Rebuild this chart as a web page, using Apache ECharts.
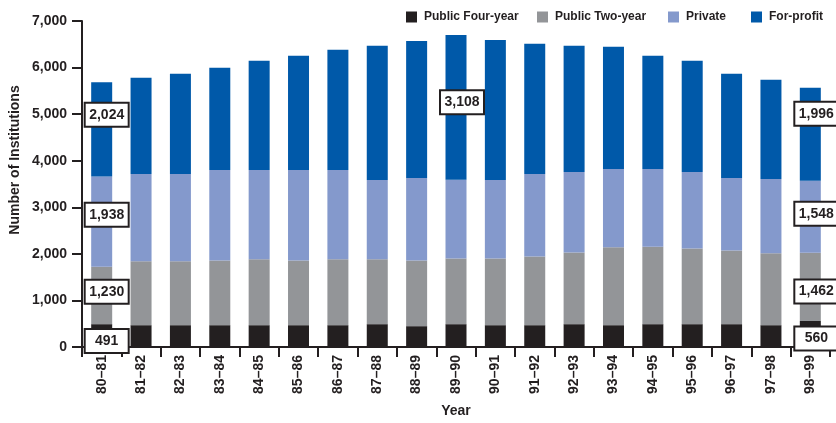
<!DOCTYPE html>
<html>
<head>
<meta charset="utf-8">
<script src="https://cdn.jsdelivr.net/npm/echarts@6/dist/echarts.min.js"></script>
<style>
  html, body { margin: 0; padding: 0; background: #fff; }
  #chart { width: 836px; height: 423px; }
</style>
</head>
<body>
<div id="chart"></div>
<script>
// Academic years
var years = ['80–81', '81–82', '82–83', '83–84', '84–85', '85–86', '86–87', '87–88', '88–89',
             '89–90', '90–91', '91–92', '92–93', '93–94', '94–95', '95–96', '96–97', '97–98', '98–99'];

// Number of institutions by sector
var publicFourYear = [491, 469, 469, 469, 469, 469, 469, 491, 448, 491, 469, 469, 491, 469, 491, 491, 491, 469, 560];
var publicTwoYear  = [1230, 1373, 1373, 1387, 1416, 1387, 1416, 1394, 1408, 1408, 1430, 1473, 1536, 1672, 1664, 1622, 1579, 1544, 1462];
var privateInst    = [1938, 1871, 1871, 1943, 1914, 1943, 1914, 1700, 1772, 1694, 1686, 1771, 1729, 1679, 1665, 1643, 1558, 1594, 1548];
var forProfit      = [2024, 2070, 2156, 2198, 2347, 2454, 2582, 2881, 2945, 3108, 3009, 2796, 2710, 2625, 2433, 2390, 2241, 2133, 1996];

// Y axis ticks
var yTicks = [0, 1000, 2000, 3000, 4000, 5000, 6000, 7000];

var seriesNames = ['Public Four-year', 'Public Two-year', 'Private', 'For-profit'];
var seriesData = [publicFourYear, publicTwoYear, privateInst, forProfit];
var colors = ['#231f20', '#939598', '#8499cc', '#0059a9'];

var ink = '#231f20';
var font = '"Liberation Sans", Arial, Helvetica, sans-serif';

// Callout boxes: which bars carry a value label, and how each is nudged
var calloutOffsets = [
  { 0: [5, 5.5],  18: [6, 4.6] },
  { 0: [5, -3.7], 18: [6, 4.5] },
  { 0: [5, -7],   18: [6, -3] },
  { 0: [5, -14.6], 9: [6, -5], 18: [6, -20.5] }
];

var calloutLabel = {
  show: true,
  position: 'inside',
  backgroundColor: '#fff',
  borderColor: ink,
  borderWidth: 2,
  padding: [3, 3, 2, 3],
  width: 36,
  align: 'center',
  color: ink,
  fontFamily: font,
  fontWeight: 'bold',
  fontSize: 14,
  lineHeight: 17,
  formatter: function (p) { return p.value.toLocaleString('en-US'); }
};

function buildSeries(i) {
  var offs = calloutOffsets[i];
  return {
    name: seriesNames[i],
    type: 'bar',
    stack: 'total',
    barWidth: 21,
    itemStyle: { color: colors[i] },
    emphasis: { disabled: true },
    data: seriesData[i].map(function (v, k) {
      if (offs[k]) {
        return { value: v, label: Object.assign({}, calloutLabel, { offset: offs[k] }) };
      }
      return v;
    })
  };
}

var legendLeft = [406, 537, 668, 751];
var legends = seriesNames.map(function (n, i) {
  return {
    data: [n],
    left: legendLeft[i],
    top: 11,
    padding: 0,
    itemWidth: 11,
    itemHeight: 11,
    itemGap: 0,
    icon: 'rect',
    selectedMode: false,
    textStyle: { color: ink, fontFamily: font, fontWeight: 'bold', fontSize: 12, padding: [0, 0, 0, 2] }
  };
});

var chart = echarts.init(document.getElementById('chart'), null, { renderer: 'canvas' });
chart.setOption({
  animation: false,
  color: colors,
  legend: legends,
  grid: { left: 82, right: 6, top: 21, bottom: 74, containLabel: false },
  xAxis: {
    type: 'category',
    data: years,
    boundaryGap: true,
    name: 'Year',
    nameLocation: 'middle',
    nameGap: 57,
    nameTextStyle: { color: ink, fontFamily: font, fontWeight: 'bold', fontSize: 14 },
    axisLine: { lineStyle: { color: ink, width: 2 } },
    axisTick: { show: true, length: 10, lineStyle: { color: ink, width: 2 } },
    axisLabel: { rotate: 90, margin: 8, interval: 0, color: ink, fontFamily: font, fontWeight: 'bold', fontSize: 14 },
    splitLine: { show: false }
  },
  yAxis: {
    type: 'value',
    min: yTicks[0],
    max: yTicks[yTicks.length - 1],
    interval: yTicks[1] - yTicks[0],
    axisLine: { show: true, lineStyle: { color: ink, width: 2 } },
    axisTick: { show: true, length: 10, lineStyle: { color: ink, width: 2 } },
    axisLabel: {
      margin: 15, color: ink, fontFamily: font, fontWeight: 'bold', fontSize: 14,
      formatter: function (v) { return v.toLocaleString('en-US'); }
    },
    splitLine: { show: false }
  },
  graphic: [{
    type: 'text',
    x: 15,
    y: 160,
    rotation: Math.PI / 2,
    style: {
      text: 'Number of Institutions',
      fill: ink,
      font: 'bold 14px ' + font,
      textAlign: 'center',
      textVerticalAlign: 'middle'
    }
  }],
  series: [0, 1, 2, 3].map(buildSeries)
});
</script>
</body>
</html>
